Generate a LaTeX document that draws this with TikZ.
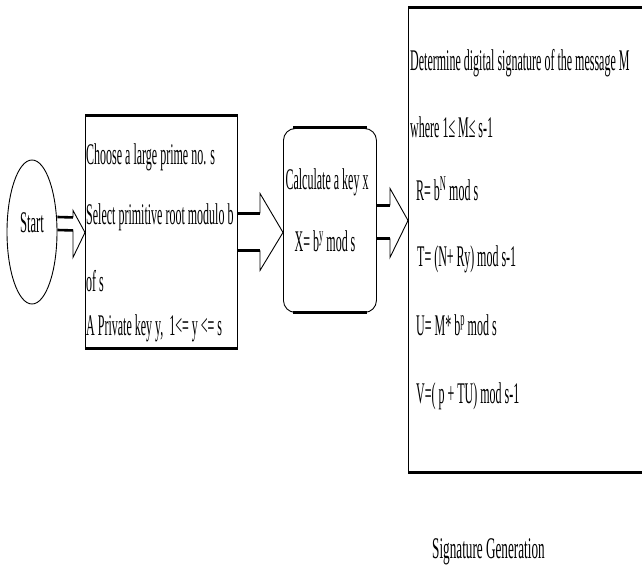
\documentclass[tikz,border=0pt]{standalone}
\usepackage{fontspec}
\setmainfont{Liberation Serif}
\usepackage{graphicx}
\usetikzlibrary{shapes.geometric,calc}
\newcommand{\sqz}[2][0.40]{\scalebox{#1}[1]{#2}}
\begin{document}
\begin{tikzpicture}[x=1pt,y=-1pt,
  txt/.style={anchor=base west, inner sep=0pt, font=\fontsize{30}{32}\selectfont},
  ctxt/.style={anchor=base, inner sep=0pt, font=\fontsize{30}{32}\selectfont},
  outline/.style={draw, line width=0.9pt, inner sep=0pt},
  edge/.style={line width=3pt},
  shaft/.style={line width=2.6pt},
  head/.style={line width=0.9pt, line join=miter}]
\useasboundingbox (0,0) rectangle (642,575);

% nodes
\node (start) [outline, ellipse, minimum width=50, minimum height=144] at (32,232) {};
\node (b1) [outline, rectangle, anchor=north west, minimum width=152, minimum height=232] at (85,116) {};
\node (b2) [outline, rectangle, rounded corners=12, anchor=north west, minimum width=93, minimum height=184] at (283,128) {};
\node (b3) [inner sep=0pt, rectangle, anchor=north west, minimum width=240, minimum height=464] at (408,8) {};

% thick edges
\draw[edge] (b1.north west) -- (b1.north east);
\draw[edge] (b1.south west) -- (b1.south east);
\draw[edge] ($(b2.north west)+(10,0)$) -- ($(b2.north east)+(-10,0)$);
\draw[edge] ($(b2.south west)+(10,0)$) -- ($(b2.south east)+(-10,0)$);
\draw[edge] (b3.north west) -- (b3.north east);
\draw[edge] (b3.south west) -- (b3.south east);
\draw[line width=0.9pt] (b3.north west) -- (b3.south west);

% block arrow start -> b1
\coordinate (t1) at (b1.west);
\draw[shaft] ($(start.east)+(0,-15)$) -- ($(t1)+(-12,-15)$);
\draw[shaft] ($(start.east)+(0,-2)$) -- ($(t1)+(-12,-2)$);
\draw[head] ($(t1)+(-12,-15)$) -- ($(t1)+(-12,-22)$) -- (t1) -- ($(t1)+(-12,25)$) -- ($(t1)+(-12,-2)$);

% block arrow b1 -> b2
\coordinate (t2) at (b2.west |- b1.east);
\draw[shaft] ($(b1.east)+(0,-19)$) -- ($(t2)+(-23,-19)$);
\draw[shaft] ($(b1.east)+(0,18)$) -- ($(t2)+(-23,18)$);
\draw[head] ($(t2)+(-23,-19)$) -- ($(t2)+(-23,-39)$) -- (t2) -- ($(t2)+(-23,38)$) -- ($(t2)+(-23,18)$);

% block arrow b2 -> b3
\coordinate (t3) at (b3.west |- b2.east);
\draw[shaft] ($(b2.east)+(0,-15)$) -- ($(t3)+(-18,-15)$);
\draw[shaft] ($(b2.east)+(0,18)$) -- ($(t3)+(-18,18)$);
\draw[head] ($(t3)+(-18,-15)$) -- ($(t3)+(-18,-32)$) -- (t3) -- ($(t3)+(-18,37)$) -- ($(t3)+(-18,18)$);

% texts
\node (tstart) [ctxt] at (32,232) {\sqz[0.42]{Start}};

\node (l11) [txt] at (86,164) {\sqz{Choose a large prime no. s}};
\node (l12) [txt] at (86,224) {\sqz{Select primitive root modulo b}};
\node (l13) [txt] at (86,291) {\sqz{of s}};
\node (l14) [txt] at (86,335) {\sqz{A Private key y,\ \ 1<= y <= s}};

\node (l21) [ctxt] at (327,189) {\sqz{Calculate a key x}};
\node (l22) [ctxt] at (325,251) {\sqz{X= b\textsuperscript{y} mod s}};

\node (l31) [txt] at (410,71) {\sqz{Determine digital signature of the message M}};
\node (l32) [txt] at (410,137) {\sqz{where 1≤ M≤ s-1}};
\node (l33) [txt] at (416,200) {\sqz{R= b\textsuperscript{N} mod s}};
\node (l34) [txt] at (417,266) {\sqz{T= (N+ Ry) mod s-1}};
\node (l35) [txt] at (416,335) {\sqz{U= M* b\textsuperscript{p} mod s}};
\node (l36) [txt] at (416,403) {\sqz{V=( p + TU) mod s-1}};

\node (cap) [txt] at (432,558) {\sqz[0.44]{Signature Generation}};
\end{tikzpicture}
\end{document}
